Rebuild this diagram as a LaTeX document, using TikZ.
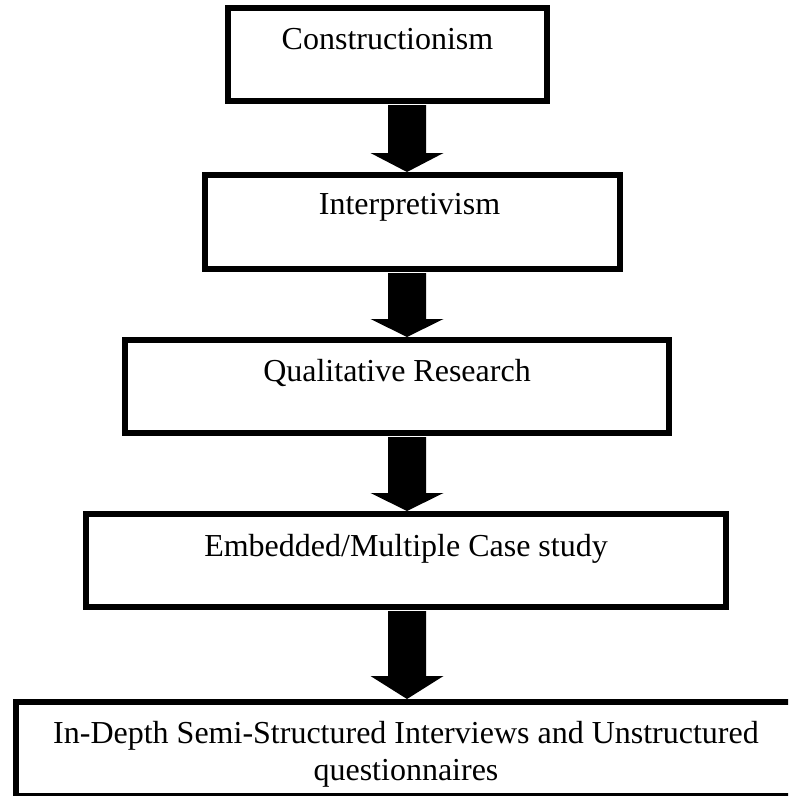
\documentclass[tikz,border=0pt]{standalone}
\usepackage{fontspec}
\setmainfont{Liberation Serif}
\usetikzlibrary{calc}
\begin{document}
\begin{tikzpicture}[x=1pt,y=-1pt,
  boxnode/.style={draw=black, line width=6pt, rectangle, inner sep=0pt, fill=white},
  txt/.style={font=\fontsize{32}{37}\selectfont, inner sep=0pt, anchor=base},
  blockarrow/.style={fill=black, draw=none}]
\useasboundingbox (0,0) rectangle (788,796);
\clip (0,0) rectangle (788,796);
\coordinate (ax) at (407,0);
% boxes
\node[boxnode, minimum width=319pt, minimum height=93pt] (b1) at (387.5,54.5) {};
\node[boxnode, minimum width=415pt, minimum height=94pt] (b2) at (412.5,222) {};
\node[boxnode, minimum width=544pt, minimum height=93pt] (b3) at (397,386.5) {};
\node[boxnode, minimum width=640pt, minimum height=93pt] (b4) at (406,560.5) {};
\node[boxnode, minimum width=780pt, minimum height=94pt] (b5) at (406,749) {};
% texts
\node[txt] (t1) at (387.5,49) {Constructionism};
\node[txt] (t2) at (409.5,214) {Interpretivism};
\node[txt] (t3) at (397,381) {Qualitative Research};
\node[txt] (t4) at (406,556) {Embedded/Multiple Case study};
\node[txt] (t5a) at (406,743) {In-Depth Semi-Structured Interviews and Unstructured};
\node[txt] (t5b) at (406,780) {questionnaires};
% block arrows
\foreach \a/\b/\h in {b1/b2/19, b2/b3/18, b3/b4/18, b4/b5/23}{
  \fill[blockarrow]
    ($(\a.south -| ax)+(-19,1)$) --
    ($(\b.north -| ax)+(-19,-\h)$) --
    ($(\b.north -| ax)+(-36.5,-\h)$) --
    (\b.north -| ax) --
    ($(\b.north -| ax)+(36.5,-\h)$) --
    ($(\b.north -| ax)+(19,-\h)$) --
    ($(\a.south -| ax)+(19,1)$) -- cycle;
}
\end{tikzpicture}
\end{document}
